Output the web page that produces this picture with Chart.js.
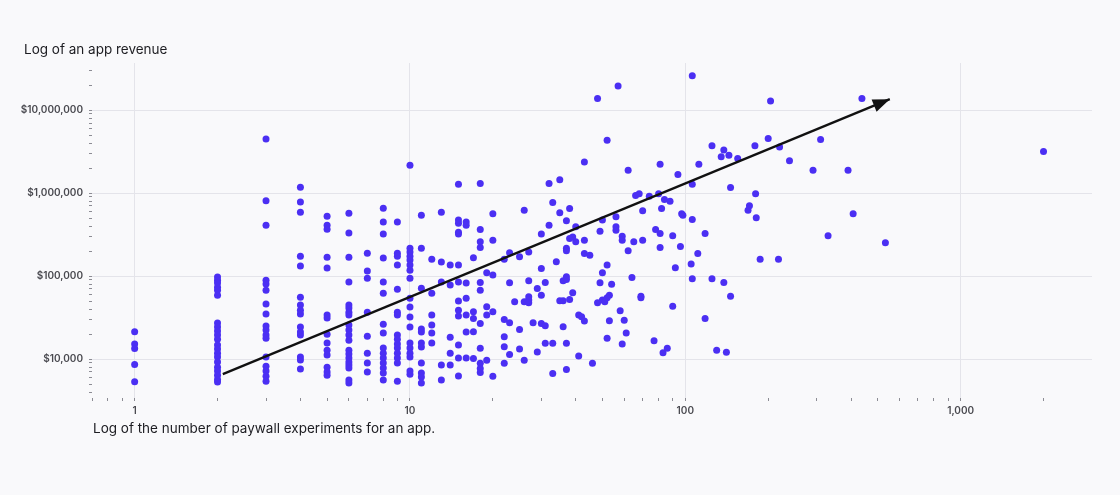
<!DOCTYPE html>
<html>
<head>
<meta charset="utf-8">
<title>Paywall experiments vs app revenue</title>
<script src="https://cdn.jsdelivr.net/npm/chart.js@4.4.0/dist/chart.umd.min.js"></script>
<style>
  html, body { margin: 0; padding: 0; background: #f9f9fb; }
  #wrap { position: relative; width: 1120px; height: 495px; overflow: hidden; }
  #revenueChart { position: absolute; left: 0; top: 0; }
  .axis-title {
    position: absolute;
    font-family: Inter, "Noto Sans", sans-serif;
    font-size: 13.5px;
    line-height: 17px;
    color: #1d1d22;
    white-space: nowrap;
  }
</style>
</head>
<body>
<div id="wrap">
  <canvas id="revenueChart" width="1120" height="495"></canvas>
  <div class="axis-title" style="left:24px; top:41px;">Log of an app revenue</div>
  <div class="axis-title" style="left:93px; top:420px;">Log of the number of paywall experiments for an app.</div>
</div>
<script>
// apps with few experiments sit on integer columns
const columnCounts = [1, 2, 3, 4, 5, 6, 7, 8, 9, 10, 11, 12, 13, 14, 15, 16];
const columnRevenue = [
  [21300, 15200, 13400, 8630, 5350],
  [97300, 89500, 82400, 73700, 67700, 59000, 27200, 24300, 21800, 19500, 17400, 14800, 13200, 11800, 10600, 9200, 8000, 7200, 6400, 5700, 5300],
  [4480000, 807000, 411000, 89500, 80200, 67700, 46000, 34900, 25000, 22400, 19500, 17900, 10600, 8200, 7200, 6200, 5400],
  [1180000, 780000, 590000, 174000, 132000, 55800, 44800, 38900, 34900, 24300, 21200, 19500, 10600, 9730, 7580],
  [528000, 411000, 368000, 169000, 125000, 33900, 31200, 20000, 15600, 12800, 11200, 8000, 7000, 6400],
  [574000, 330000, 169000, 84700, 44800, 41200, 36800, 33900, 25700, 22400, 19500, 16900, 12800, 11500, 10300, 9200, 8470, 7800, 5590, 5140],
  [189000, 115000, 94600, 36800, 18900, 11800, 8950, 7000],
  [659000, 448000, 321000, 165000, 84700, 62400, 26400, 20600, 13600, 11800, 10300, 8950, 7800, 6780, 5590],
  [448000, 189000, 174000, 136000, 69700, 36800, 33900, 19500, 17400, 15200, 13600, 11800, 10300, 8950, 5430],
  [2170000, 217000, 195000, 174000, 156000, 136000, 118000, 94600, 54300, 42400, 32100, 24300, 15600, 13600, 11800, 10600, 7170, 6590],
  [543000, 217000, 71600, 23000, 21200, 15600, 14000, 8950, 6780, 6070, 5140],
  [160000, 62400, 33900, 25700, 20600, 15600],
  [590000, 148000, 84700, 8470, 5590],
  [136000, 78000, 18400, 11800, 8470],
  [1280000, 473000, 435000, 339000, 321000, 136000, 84700, 50000, 38900, 33000, 14800, 10300, 6240],
  [448000, 411000, 82400, 54300, 33900, 21200, 10300]
];

// the rest of the apps, experiments and revenue side by side
const spreadCounts = [
  18, 20, 18, 18, 18, 20, 17, 23, 22, 25, 27, 26, 32, 35, 33, 35, 38, 37, 32, 30,
  40, 38, 39, 40, 43, 37, 37, 43, 45, 34, 30, 19, 20, 18, 18, 23, 27, 29, 31, 30,
  36, 37, 37, 39, 38, 36, 35, 27, 27, 26, 27, 24, 19, 19, 20, 17, 17, 18, 17, 22,
  23, 25, 28, 30, 31, 36, 41, 42, 43, 22, 22, 23, 18, 17, 18, 18, 18, 19, 20, 22,
  25, 26, 29, 31, 33, 37, 33, 37, 41, 46, 43, 62, 81, 66, 68, 74, 80, 84, 70, 82,
  56, 50, 49, 56, 56, 59, 59, 65, 70, 78, 81, 81, 62, 52, 50, 64, 49, 54, 53, 52,
  50, 48, 51, 69, 69, 58, 60, 53, 61, 52, 59, 77, 83, 86, 48, 57, 52, 106, 204, 438,
  125, 138, 144, 135, 155, 179, 200, 220, 310, 112, 239, 94, 106, 146, 291, 390, 88, 180, 171, 169,
  181, 97, 98, 106, 407, 90, 118, 96, 111, 105, 92, 330, 533, 187, 218, 106, 125, 138, 146, 90,
  118, 130, 141, 2000
];
const spreadRevenue = [
  1310000, 566000, 365000, 259000, 222000, 271000, 166000, 191000, 160000, 171000, 196000, 624000, 1310000, 1450000, 773000, 579000, 654000, 464000, 411000, 321000,
  393000, 284000, 297000, 259000, 271000, 216000, 202000, 188000, 179000, 149000, 124000, 110000, 103000, 84000, 67800, 83000, 87800, 71100, 84000, 59000,
  87800, 98200, 91200, 62900, 52400, 50400, 50400, 56300, 51400, 49000, 47700, 49000, 42700, 33900, 37100, 37100, 30900, 26900, 21300, 30100,
  27400, 22800, 27400, 26900, 25200, 24500, 33900, 32400, 28700, 18600, 14100, 11400, 13500, 10200, 8900, 7700, 6900, 9700, 6200, 8900,
  13200, 9700, 12200, 15500, 15500, 15500, 6700, 7500, 10900, 8900, 2380000, 1890000, 2230000, 937000, 986000, 920000, 986000, 840000, 612000, 654000,
  518000, 473000, 348000, 393000, 358000, 303000, 271000, 259000, 271000, 365000, 327000, 222000, 202000, 136000, 110000, 96400, 83000, 80100, 59000, 55000,
  51400, 47700, 49000, 57400, 55000, 38200, 29500, 28900, 20700, 17800, 15200, 16600, 11900, 13500, 13800000, 19600000, 4350000, 25900000, 12900000, 13800000,
  3720000, 3300000, 2870000, 2740000, 2620000, 3720000, 4560000, 3610000, 4440000, 2230000, 2450000, 1680000, 1280000, 1170000, 1890000, 1890000, 801000, 986000, 703000, 624000,
  504000, 566000, 543000, 482000, 566000, 306000, 327000, 228000, 188000, 140000, 126000, 306000, 253000, 160000, 160000, 93300, 93300, 84000, 57400, 43500,
  30900, 12800, 12100, 3180000
];

// trend arrow, start and tip
const trendCounts = [2.09, 553];
const trendRevenue = [6590, 13570000];

const xMajorTicks = [1, 10, 100, 1000];
const xMinorTicks = [0.7, 0.8, 0.9, 2, 3, 4, 5, 6, 7, 8, 9, 20, 30, 40, 50, 60, 70, 80, 90,
  200, 300, 400, 500, 600, 700, 800, 900, 2000];
const yMajorTicks = [10000, 100000, 1000000, 10000000];
const yMinorTicks = [4000, 5000, 6000, 7000, 8000, 9000,
  20000, 30000, 40000, 50000, 60000, 70000, 80000, 90000,
  200000, 300000, 400000, 500000, 600000, 700000, 800000, 900000,
  2000000, 3000000, 4000000, 5000000, 6000000, 7000000, 8000000, 9000000,
  20000000, 30000000];

const dotColor = '#4b2ff3';
const gridColor = '#e4e4ea';
const tickMarkColor = '#8c8c94';
const labelColor = '#4a4a50';

let appPoints = [];
columnCounts.forEach((n, i) => {
    columnRevenue[i].forEach(r => appPoints.push({ x: n, y: r }));
});
spreadCounts.forEach((n, i) => appPoints.push({ x: n, y: spreadRevenue[i] }));

let trendPoints = trendCounts.map((n, i) => ({ x: n, y: trendRevenue[i] }));

function inList(list, v) {
    return list.some(m => Math.abs(m - v) < m * 1e-9);
}

function sortedTicks(major, minor) {
    return major.concat(minor).sort((a, b) => a - b).map(v => ({ value: v }));
}

const arrowHead = {
    id: 'arrowHead',
    afterDatasetsDraw(chart) {
        let pts = chart.getDatasetMeta(0).data;
        let tip = pts[pts.length - 1];
        let from = pts[pts.length - 2];
        let ang = Math.atan2(tip.y - from.y, tip.x - from.x);
        let c = chart.ctx;
        c.save();
        c.translate(tip.x, tip.y);
        c.rotate(ang);
        c.beginPath();
        c.moveTo(0, 0);
        c.lineTo(-17, -6.5);
        c.lineTo(-17, 6.5);
        c.closePath();
        c.fillStyle = '#111';
        c.fill();
        c.restore();
    }
};

let tickFont = { family: 'Inter, "Noto Sans", sans-serif', size: 10, weight: 600 };

let ctx = document.getElementById('revenueChart').getContext('2d');
new Chart(ctx, {
    type: 'scatter',
    data: {
        datasets: [{
            label: 'Trend',
            data: trendPoints,
            showLine: true,
            borderColor: '#111',
            borderWidth: 2.3,
            pointRadius: 0,
            pointHoverRadius: 0
        }, {
            label: 'Apps',
            data: appPoints,
            backgroundColor: dotColor,
            borderWidth: 0,
            pointRadius: 3.5,
            pointHoverRadius: 3.5
        }]
    },
    options: {
        responsive: false,
        animation: false,
        events: [],
        layout: { padding: { left: 0, right: 28, top: 63, bottom: 67 } },
        plugins: {
            legend: { display: false },
            tooltip: { enabled: false }
        },
        scales: {
            x: {
                type: 'logarithmic',
                min: 0.7,
                max: 3000,
                afterBuildTicks: axis => { axis.ticks = sortedTicks(xMajorTicks, xMinorTicks); },
                afterFit: axis => { axis.height = 30; },
                border: { display: false },
                grid: {
                    color: c => (c.tick && inList(xMajorTicks, c.tick.value)) ? gridColor : 'transparent',
                    tickColor: tickMarkColor,
                    tickLength: 3
                },
                ticks: {
                    autoSkip: false,
                    maxRotation: 0,
                    padding: 4,
                    color: labelColor,
                    font: tickFont,
                    callback: v => inList(xMajorTicks, v) ? Number(v).toLocaleString('en-US') : ''
                }
            },
            y: {
                type: 'logarithmic',
                min: 3400,
                max: 37000000,
                afterBuildTicks: axis => { axis.ticks = sortedTicks(yMajorTicks, yMinorTicks); },
                afterFit: axis => { axis.width = 92; },
                border: { display: false },
                grid: {
                    color: c => (c.tick && inList(yMajorTicks, c.tick.value)) ? gridColor : 'transparent',
                    tickColor: tickMarkColor,
                    tickLength: 3
                },
                ticks: {
                    autoSkip: false,
                    padding: 6,
                    color: labelColor,
                    font: tickFont,
                    callback: v => inList(yMajorTicks, v) ? '$' + Number(v).toLocaleString('en-US') : ''
                }
            }
        }
    },
    plugins: [arrowHead]
});
</script>
</body>
</html>
